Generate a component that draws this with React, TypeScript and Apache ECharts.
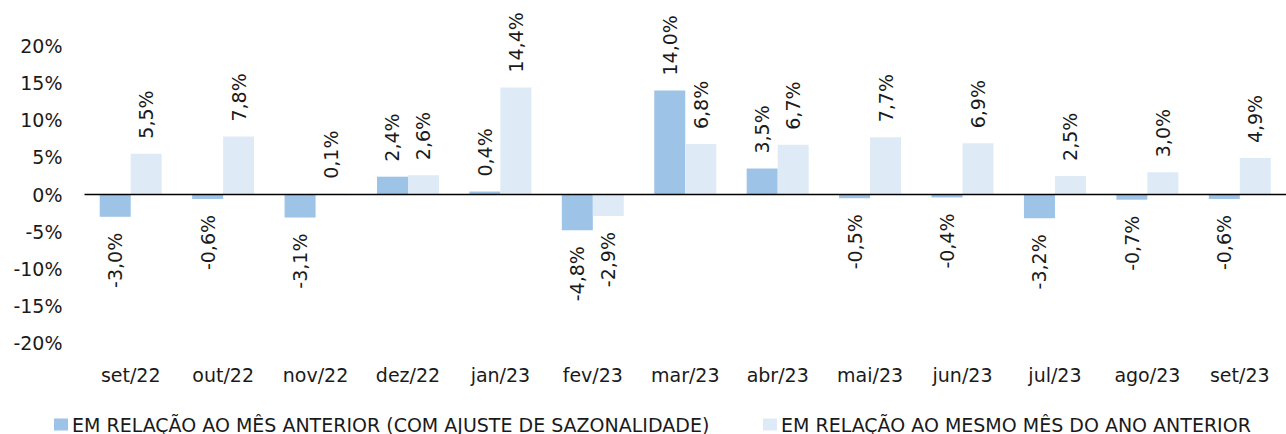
import React, { useEffect, useRef } from "react";
import * as echarts from "echarts";

const categories = ["set/22", "out/22", "nov/22", "dez/22", "jan/23", "fev/23", "mar/23", "abr/23", "mai/23", "jun/23", "jul/23", "ago/23", "set/23"];
const mesAnterior = [-3.0, -0.6, -3.1, 2.4, 0.4, -4.8, 14.0, 3.5, -0.5, -0.4, -3.2, -0.7, -0.6];
const anoAnterior = [5.5, 7.8, 0.1, 2.6, 14.4, -2.9, 6.8, 6.7, 7.7, 6.9, 2.5, 3.0, 4.9];
const seriesNames = [
  "EM RELAÇÃO AO MÊS ANTERIOR (COM AJUSTE DE SAZONALIDADE)",
  "EM RELAÇÃO AO MESMO MÊS DO ANO ANTERIOR",
];
const colors = ["#9DC3E6", "#DEEBF7"];

const FONT = "DejaVu Sans";
const FS = 19;

const fmt = (v: number) => v.toFixed(1).replace(".", ",") + "%";

function makeData(values: number[]) {
  return values.map((v) => ({
    value: v,
    label:
      v >= 0
        ? { position: "top", align: "left", verticalAlign: "middle", rotate: 90, distance: 15 }
        : { position: "bottom", align: "right", verticalAlign: "middle", rotate: 90, distance: 16 },
  }));
}

export default function App() {
  const ref = useRef<HTMLDivElement>(null);
  useEffect(() => {
    const chart = echarts.init(ref.current!, null, { renderer: "svg" });
    const labelBase = {
      show: true,
      color: "#1a1a1a",
      fontFamily: FONT,
      fontSize: FS,
      formatter: (p: any) => fmt(p.value),
    };
    const legendText = { fontFamily: FONT, fontSize: FS, color: "#1a1a1a", lineHeight: 19, padding: [0, 0, 0, -1] };
    chart.setOption({
      animation: false,
      textStyle: { fontFamily: FONT },
      grid: { left: 84.5, top: 46, width: 1210, height: 297 },
      legend: [
        {
          data: [seriesNames[0]],
          left: 49,
          top: 410,
          itemWidth: 14,
          itemHeight: 12,
          icon: "rect",
          textStyle: legendText,
        },
        {
          data: [seriesNames[1]],
          left: 758,
          top: 410,
          itemWidth: 14,
          itemHeight: 12,
          icon: "rect",
          textStyle: legendText,
        },
      ],
      xAxis: {
        type: "category",
        data: categories,
        axisLine: { show: false, onZero: false },
        axisTick: { show: false },
        axisLabel: { color: "#1a1a1a", fontFamily: FONT, fontSize: FS, margin: 22 },
      },
      yAxis: {
        type: "value",
        min: -20,
        max: 20,
        interval: 5,
        splitLine: { show: false },
        axisLine: { show: false },
        axisTick: { show: false },
        axisLabel: {
          color: "#1a1a1a",
          fontFamily: FONT,
          fontSize: FS,
          margin: 22,
          formatter: (v: number) => v + "%",
        },
      },
      series: [
        {
          name: seriesNames[0],
          type: "bar",
          data: makeData(mesAnterior),
          barWidth: 31,
          barGap: "0%",
          itemStyle: { color: colors[0] },
          label: labelBase,
          markLine: {
            silent: true,
            symbol: "none",
            label: { show: false },
            lineStyle: { color: "#000", width: 1.3, type: "solid" },
            data: [{ yAxis: 0 }],
          },
        },
        {
          name: seriesNames[1],
          type: "bar",
          data: makeData(anoAnterior),
          barWidth: 31,
          barGap: "0%",
          itemStyle: { color: colors[1] },
          label: labelBase,
        },
      ],
    });
    return () => chart.dispose();
  }, []);
  return (
    <div
      ref={ref}
      style={{ position: "fixed", left: 0, top: 0, width: 1286, height: 434, background: "#fff" }}
    />
  );
}
